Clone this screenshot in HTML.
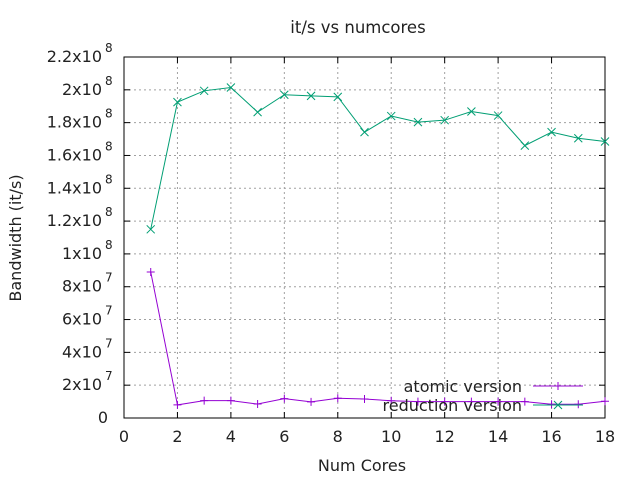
<!DOCTYPE html>
<html><head><meta charset="utf-8"><style>
body{margin:0;background:#fff}
text{font-family:"DejaVu Sans","Liberation Sans",sans-serif;font-size:16px;fill:#222}
</style></head><body>
<svg id="chart" width="640" height="480" xmlns="http://www.w3.org/2000/svg">
<rect width="640" height="480" fill="#fff"/>
<g id="grid"></g>
<g id="ticks"></g>
<rect x="124" y="57" width="481" height="361" fill="none" stroke="#000" stroke-width="1"/>
<text x="358" y="33" text-anchor="middle" style="font-size:16.5px">it/s vs numcores</text>
<text x="362" y="471" text-anchor="middle">Num Cores</text>
<text transform="translate(21,238) rotate(-90)" text-anchor="middle">Bandwidth (it/s)</text>
<g id="series"></g>
<g>
<text x="522" y="392" text-anchor="end">atomic version</text>
<line x1="533" y1="386" x2="583" y2="386" stroke="#9400d3"/>
<path d="M554,386L562,386M558,382L558,390" stroke="#9400d3"/>
<text x="522" y="411" text-anchor="end">reduction version</text>
<line x1="533" y1="405" x2="583" y2="405" stroke="#009e73"/>
<path d="M554,401L562,409M554,409L562,401" stroke="#009e73"/>
</g>
</svg>
<script>
const cores=[1,2,3,4,5,6,7,8,9,10,11,12,13,14,15,16,17,18];
const atomic=[8.9e7,8e6,10.6e6,10.6e6,8.5e6,11.8e6,9.8e6,12e6,11.6e6,10.5e6,10e6,10e6,10e6,10e6,10e6,8.4e6,8.4e6,10.2e6];
const reduction=[1.15e8,1.925e8,1.994e8,2.014e8,1.864e8,1.97e8,1.963e8,1.957e8,1.742e8,1.84e8,1.803e8,1.815e8,1.868e8,1.843e8,1.66e8,1.742e8,1.705e8,1.685e8];
const xTicks=[0,2,4,6,8,10,12,14,16,18];
const yTicks=[0,2e7,4e7,6e7,8e7,1e8,1.2e8,1.4e8,1.6e8,1.8e8,2e8,2.2e8];
const yTickLabels=["0","2x10","4x10","6x10","8x10","1x10","1.2x10","1.4x10","1.6x10","1.8x10","2x10","2.2x10"];
const yTickExp=["","7","7","7","7","8","8","8","8","8","8","8"];
const X=v=>124+v*(481/18), Y=v=>418-v*(361/2.2e8);
const NS="http://www.w3.org/2000/svg";
function mk(tag,attrs,parent){const e=document.createElementNS(NS,tag);for(const k in attrs)e.setAttribute(k,attrs[k]);parent.appendChild(e);return e;}
const grid=document.getElementById('grid'),ticks=document.getElementById('ticks'),series=document.getElementById('series');
xTicks.forEach(t=>{const x=X(t);
 if(t>0&&t<18){const g=mk('line',{x1:x,y1:57,x2:x,y2:418,stroke:'#a0a0a0','stroke-dasharray':'2,3'},grid);
 
 }
 mk('line',{x1:x,y1:418,x2:x,y2:412,stroke:'#000'},ticks);mk('line',{x1:x,y1:57,x2:x,y2:63,stroke:'#000'},ticks);
 const l=mk('text',{x:x,y:442,'text-anchor':'middle'},ticks);l.textContent=t;
 
 });
yTicks.forEach((t,i)=>{const y=Y(t);
 if(i>0&&i<yTicks.length-1){const g=mk('line',{x1:124,y1:y,x2:605,y2:y,stroke:'#a0a0a0','stroke-dasharray':'2,3'},grid);
 
 }
 mk('line',{x1:124,y1:y,x2:130,y2:y,stroke:'#000'},ticks);mk('line',{x1:605,y1:y,x2:599,y2:y,stroke:'#000'},ticks);
 const l=mk('text',{x:yTickExp[i]?102:108,y:y+5,'text-anchor':'end'},ticks);l.textContent=yTickLabels[i];
 
 
 if(yTickExp[i]){const s=mk('text',{x:105,y:y-5,style:'font-size:12px'},ticks);s.textContent=yTickExp[i];
 
 }});
function draw(vals,color,name,cross){
 const p=mk('polyline',{points:cores.map((c,i)=>X(c)+','+Y(vals[i])).join(' '),fill:'none',stroke:color},series);
 
 
 cores.forEach((c,i)=>{const x=X(c),y=Y(vals[i]);
  const d=cross?`M${x-4},${y-4}L${x+4},${y+4}M${x-4},${y+4}L${x+4},${y-4}`:`M${x-4},${y}L${x+4},${y}M${x},${y-4}L${x},${y+4}`;
  const m=mk('path',{d:d,stroke:color,fill:'none'},series);
  
  });
}
draw(atomic,'#9400d3','atomic',false);
draw(reduction,'#009e73','reduction',true);
</script>
</body></html>
